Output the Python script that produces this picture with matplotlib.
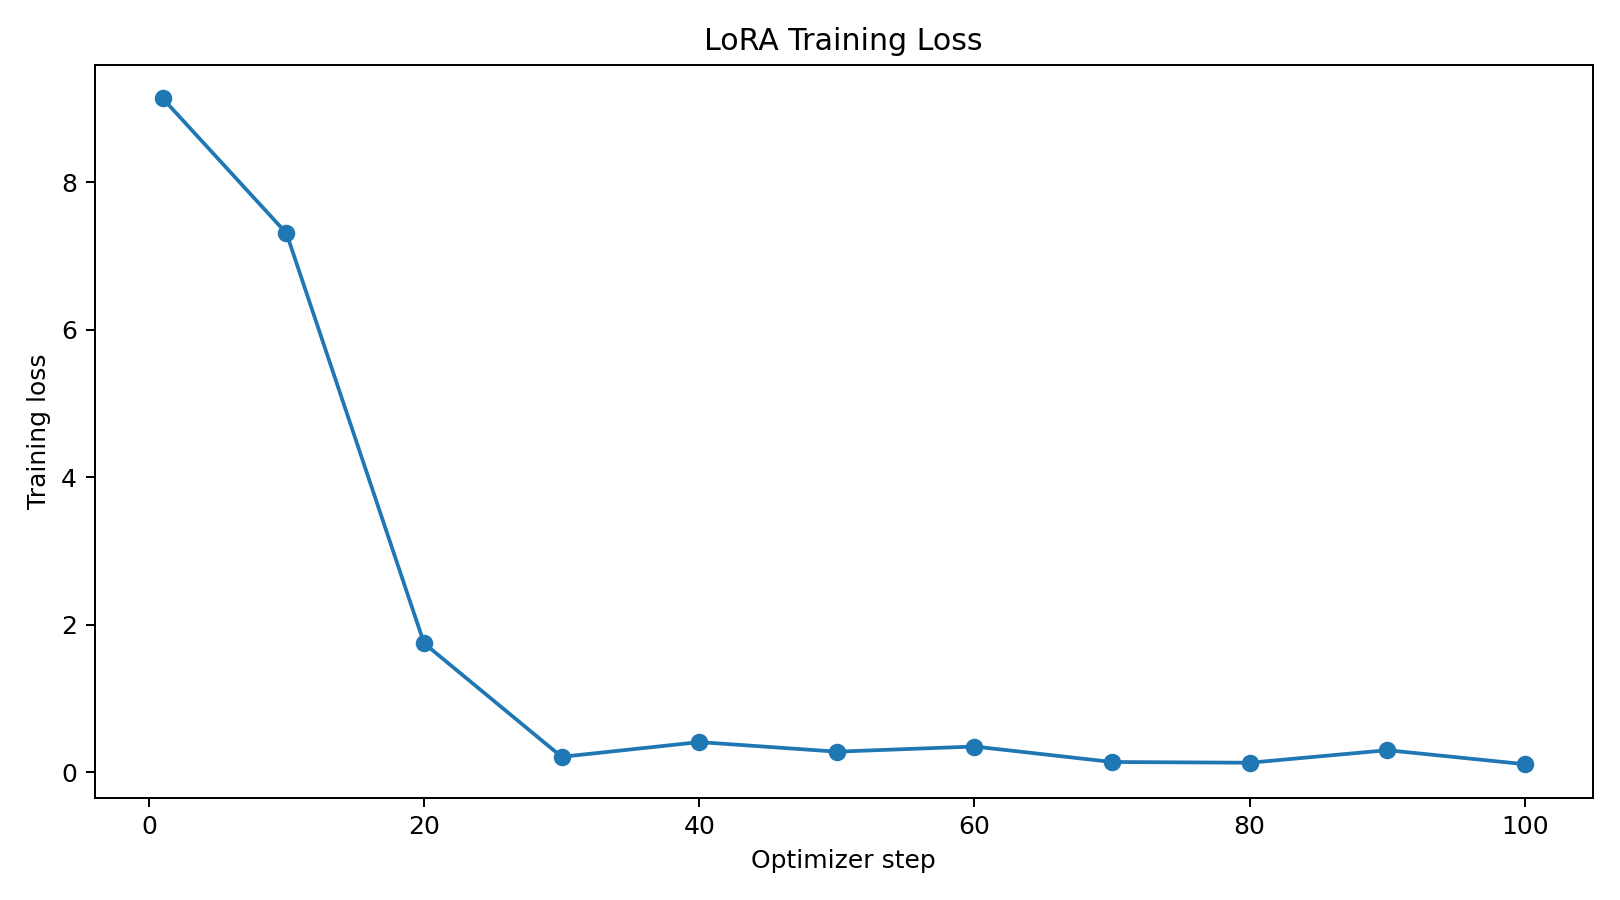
import matplotlib
matplotlib.use('Agg')
import matplotlib.pyplot as plt

steps = [1, 10, 20, 30, 40, 50, 60, 70, 80, 90, 100]
loss = [9.14, 7.31, 1.75, 0.21, 0.41, 0.28, 0.35, 0.14, 0.13, 0.30, 0.11]

fig, ax = plt.subplots(figsize=(9, 5), dpi=180)
ax.plot(steps, loss, marker='o')
ax.set_title('LoRA Training Loss')
ax.set_xlabel('Optimizer step')
ax.set_ylabel('Training loss')
fig.tight_layout()
fig.savefig('out.png')
